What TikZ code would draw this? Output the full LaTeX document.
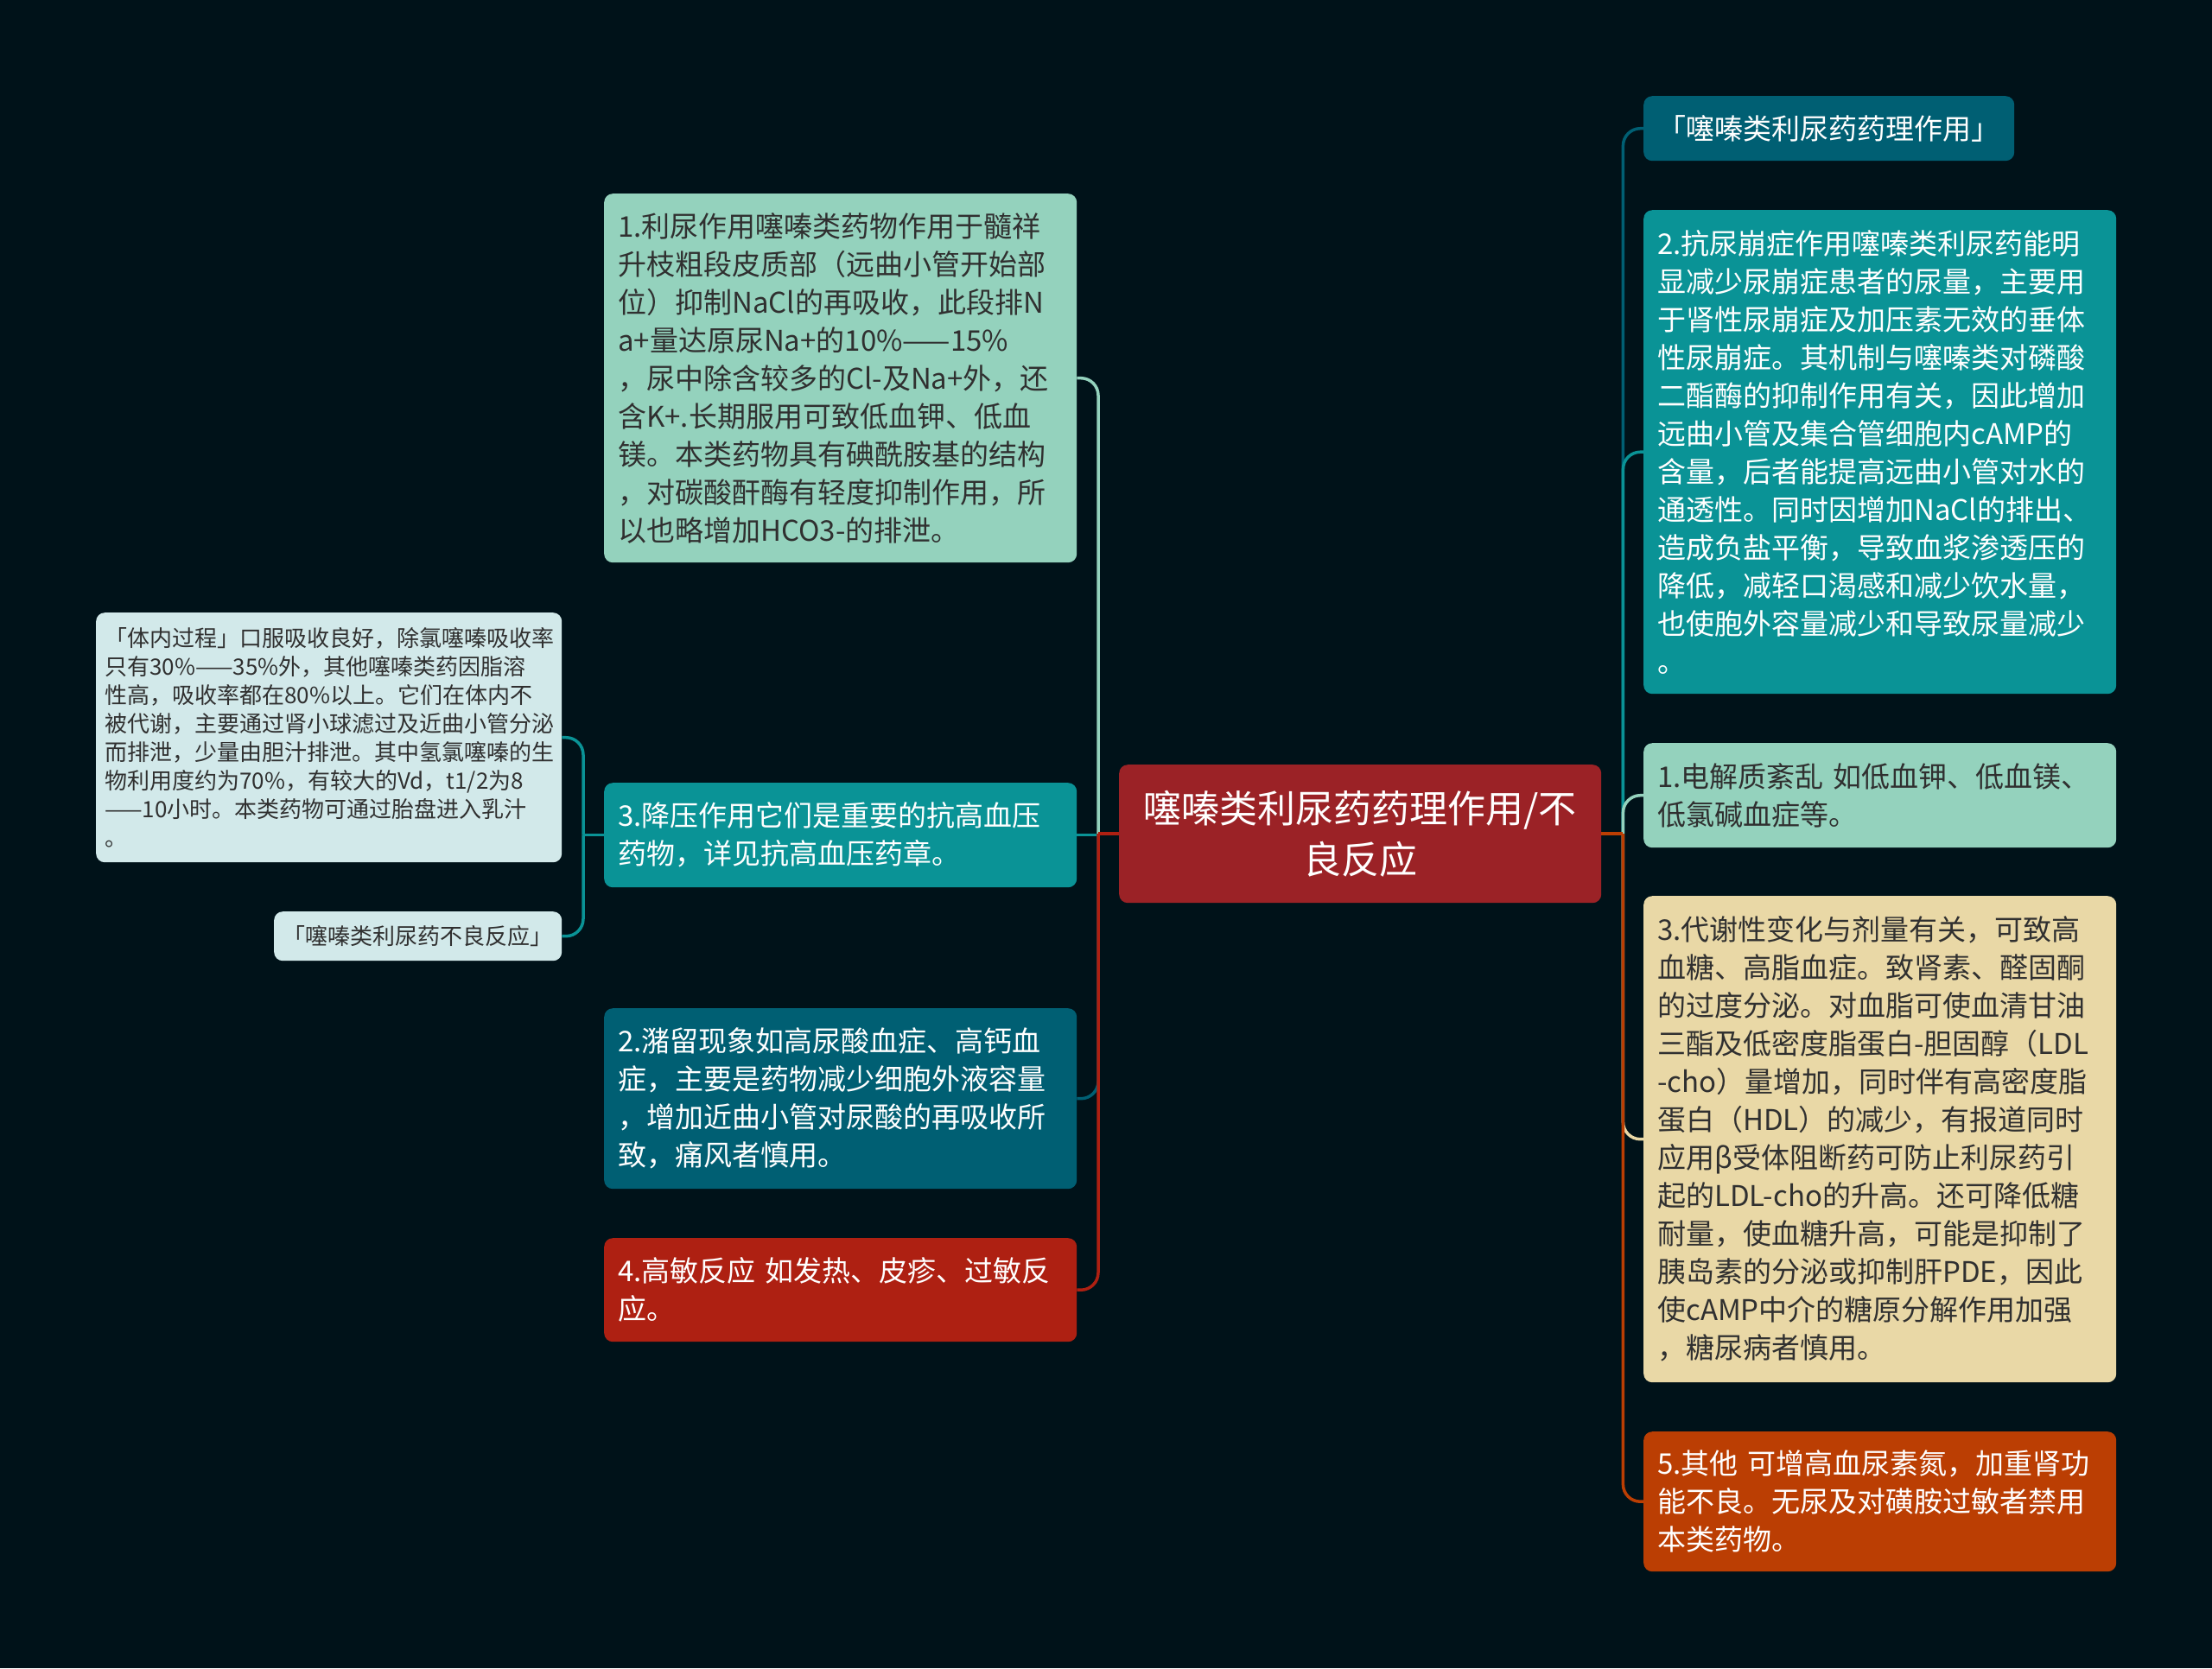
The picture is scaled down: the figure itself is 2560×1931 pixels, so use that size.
\documentclass[tikz,border=0pt]{standalone}
\usepackage{fontspec}
\newfontfamily\cjk{Noto Sans CJK SC}
\definecolor{bg}{HTML}{001219}
\definecolor{cDark}{HTML}{005F73}
\definecolor{cTeal}{HTML}{0A9396}
\definecolor{cMint}{HTML}{94D2BD}
\definecolor{cSand}{HTML}{E9D8A6}
\definecolor{cOrange}{HTML}{BB3E03}
\definecolor{cRed}{HTML}{AE2012}
\definecolor{cCenter}{HTML}{9B2226}
\definecolor{cPale}{HTML}{D2E9EA}
\definecolor{txtDark}{HTML}{303030}
\tikzset{
  nd/.style={anchor=north west, rounded corners=10pt, inner xsep=16pt, inner ysep=0pt,
    align=left, font=\cjk\fontsize{33}{44}\selectfont},
  ndsmall/.style={anchor=north west, rounded corners=10pt, inner xsep=10pt, inner ysep=0pt,
    align=left, font=\cjk\fontsize{26}{33}\selectfont},
  straightlink/.style={line width=3.5pt},
  curvelink/.style={line width=3.5pt, rounded corners=20pt},
}
\begin{document}
\begin{tikzpicture}[x=1pt,y=-1pt]
\fill[bg] (0,0) rectangle (2560,1931);
\path[use as bounding box] (0,0) rectangle (2560,1931);

% center
\node[nd, fill=cCenter, text=white, align=center, inner xsep=20pt, text width=518pt,
  minimum width=558pt, minimum height=160pt, font=\cjk\fontsize{44}{59}\selectfont]
  (C) at (1295,885) {噻嗪类利尿药药理作用/不\\良反应};

% left side
\node[nd, fill=cMint, text=txtDark, text width=515pt, minimum height=427pt] (L1) at (699,224)
{1.利尿作用噻嗪类药物作用于髓祥\\
升枝粗段皮质部（远曲小管开始部\\
位）抑制NaCl的再吸收，此段排N\\
a+量达原尿Na+的10\%——15\%\\
，尿中除含较多的Cl-及Na+外，还\\
含K+.长期服用可致低血钾、低血\\
镁。本类药物具有碘酰胺基的结构\\
，对碳酸酐酶有轻度抑制作用，所\\
以也略增加HCO3-的排泄。};

\node[nd, fill=cTeal, text=white, text width=515pt, minimum height=121pt] (L3) at (699,906)
{3.降压作用它们是重要的抗高血压\\药物，详见抗高血压药章。};

\node[nd, fill=cDark, text=white, text width=515pt, minimum height=209pt] (L2) at (699,1167)
{2.潴留现象如高尿酸血症、高钙血\\
症，主要是药物减少细胞外液容量\\
，增加近曲小管对尿酸的再吸收所\\
致，痛风者慎用。};

\node[nd, fill=cRed, text=white, text width=515pt, minimum height=120pt] (L4) at (699,1433)
{4.高敏反应 如发热、皮疹、过敏反\\应。};

% far left
\node[ndsmall, fill=cPale, text=txtDark, text width=519pt, minimum height=289pt] (FL) at (111,709)
{「体内过程」口服吸收良好，除氯噻嗪吸收率\\
只有30\%——35\%外，其他噻嗪类药因脂溶\\
性高，吸收率都在80\%以上。它们在体内不\\
被代谢，主要通过肾小球滤过及近曲小管分泌\\
而排泄，少量由胆汁排泄。其中氢氯噻嗪的生\\
物利用度约为70\%，有较大的Vd，t1/2为8\\
——10小时。本类药物可通过胎盘进入乳汁\\
。};

\node[ndsmall, fill=cPale, text=txtDark, align=center, inner xsep=4pt, text width=325pt,
  minimum height=57pt] (FS) at (317,1055) {「噻嗪类利尿药不良反应」};

% right side
\node[nd, fill=cDark, text=white, align=center, text width=397pt, minimum height=75pt] (R0) at (1902,111)
{「噻嗪类利尿药药理作用」};

\node[nd, fill=cTeal, text=white, text width=515pt, minimum height=560pt] (R2) at (1902,243)
{2.抗尿崩症作用噻嗪类利尿药能明\\
显减少尿崩症患者的尿量，主要用\\
于肾性尿崩症及加压素无效的垂体\\
性尿崩症。其机制与噻嗪类对磷酸\\
二酯酶的抑制作用有关，因此增加\\
远曲小管及集合管细胞内cAMP的\\
含量，后者能提高远曲小管对水的\\
通透性。同时因增加NaCl的排出、\\
造成负盐平衡，导致血浆渗透压的\\
降低，减轻口渴感和减少饮水量，\\
也使胞外容量减少和导致尿量减少\\
。};

\node[nd, fill=cMint, text=txtDark, text width=515pt, minimum height=121pt] (R1) at (1902,860)
{1.电解质紊乱 如低血钾、低血镁、\\低氯碱血症等。};

\node[nd, fill=cSand, text=txtDark, text width=515pt, minimum height=563pt] (R3) at (1902,1037)
{3.代谢性变化与剂量有关，可致高\\
血糖、高脂血症。致肾素、醛固酮\\
的过度分泌。对血脂可使血清甘油\\
三酯及低密度脂蛋白-胆固醇（LDL\\
-cho）量增加，同时伴有高密度脂\\
蛋白（HDL）的减少，有报道同时\\
应用β受体阻断药可防止利尿药引\\
起的LDL-cho的升高。还可降低糖\\
耐量，使血糖升高，可能是抑制了\\
胰岛素的分泌或抑制肝PDE，因此\\
使cAMP中介的糖原分解作用加强\\
，糖尿病者慎用。};

\node[nd, fill=cOrange, text=white, text width=515pt, minimum height=162pt] (R5) at (1902,1657)
{5.其他 可增高血尿素氮，加重肾功\\
能不良。无尿及对磺胺过敏者禁用\\
本类药物。};

% junctions
\path (C.west) ++(-24,0) coordinate (jl);
\path (C.east) ++(25,0) coordinate (jr);
\path (L3.west) ++(-24,0) coordinate (jf);

% left connectors
\draw[curvelink, draw=cMint] (jl) -- (jl |- L1.east) -- (L1.east);
\draw[straightlink, draw=cTeal] (jl) -- (jl |- L3.east) -- (L3.east);
\draw[curvelink, draw=cDark] (jl) -- (jl |- L2.east) -- (L2.east);
\draw[curvelink, draw=cRed] (jl) -- (jl |- L4.east) -- (L4.east);
\draw[straightlink, draw=cRed] (C.west) -- (jl);

% far-left connectors
\draw[curvelink, draw=cTeal] (jf) -- (jf |- FL.east) -- (FL.east);
\draw[curvelink, draw=cTeal] (jf) -- (jf |- FS.east) -- (FS.east);
\draw[straightlink, draw=cTeal] (L3.west) -- (jf);

% right connectors
\draw[curvelink, draw=cDark] (jr) -- (jr |- R0.west) -- (R0.west);
\draw[curvelink, draw=cTeal] (jr) -- (jr |- R2.west) -- (R2.west);
\draw[curvelink, draw=cMint] (jr) -- (jr |- R1.west) -- (R1.west);
\draw[curvelink, draw=cSand] (jr) -- (jr |- R3.west) -- (R3.west);
\draw[curvelink, draw=cOrange] (jr) -- (jr |- R5.west) -- (R5.west);
\draw[straightlink, draw=cOrange] (C.east) -- (jr);
\end{tikzpicture}
\end{document}
